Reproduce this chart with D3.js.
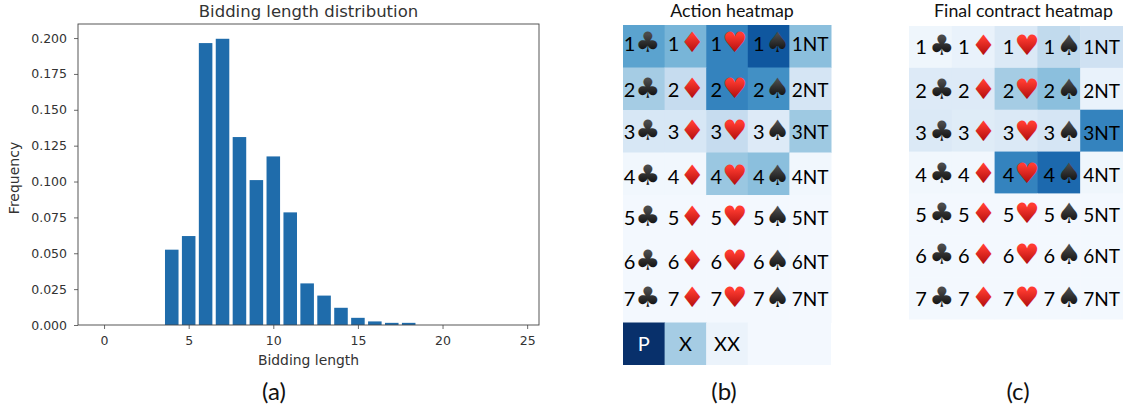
<!DOCTYPE html>
<html>
<head>
<meta charset="utf-8">
<script src="https://cdn.jsdelivr.net/npm/d3@7"></script>
<style>
html, body { margin: 0; padding: 0; background: #fff; }
svg { display: block; }
.mpl text { font-family: "DejaVu Sans", sans-serif; fill: #333; }
.office text { font-family: Lato, "Open Sans", sans-serif; }
</style>
</head>
<body>
<div id="chart-area"></div>
<script>
// BAR CHART DATA
var lengths = [4, 5, 6, 7, 8, 9, 10, 11, 12, 13, 14, 15, 16, 17, 18];
var frequency = [0.0525, 0.062, 0.1965, 0.1995, 0.131, 0.101, 0.1175, 0.0785, 0.029, 0.0205, 0.012, 0.005, 0.0025, 0.0015, 0.0015];
var xTicks = [0, 5, 10, 15, 20, 25];
var yTicks = [0, 0.025, 0.05, 0.075, 0.1, 0.125, 0.15, 0.175, 0.2];

// HEATMAP DATA
var levels = [1, 2, 3, 4, 5, 6, 7];
var suits = ["\u2663", "\u2666", "\u2665", "\u2660", "NT"];
var specials = ["P", "X", "XX", ""];
var actionValues = [
    [0.55, 0.47, 0.68, 0.85, 0.42],
    [0.35, 0.24, 0.68, 0.63, 0.17],
    [0.16, 0.16, 0.24, 0.13, 0.37],
    [0.03, 0.03, 0.38, 0.42, 0.03],
    [0.02, 0.02, 0.02, 0.02, 0.02],
    [0.02, 0.02, 0.02, 0.02, 0.02],
    [0.02, 0.02, 0.02, 0.02, 0.02]
];
var specialValues = [1, 0.35, 0.06, 0.02];
var contractValues = [
    [0.04, 0.07, 0.14, 0.26, 0.2],
    [0.13, 0.13, 0.35, 0.42, 0.07],
    [0.14, 0.12, 0.14, 0.17, 0.68],
    [0.03, 0.03, 0.68, 0.78, 0.04],
    [0.02, 0.02, 0.02, 0.02, 0.02],
    [0.02, 0.02, 0.02, 0.02, 0.02],
    [0.02, 0.02, 0.02, 0.02, 0.02]
];

// CREATE SVG
var svg = d3.select("#chart-area")
    .append("svg")
    .attr("width", 1123)
    .attr("height", 408);

// Suit gradients
var defs = svg.append("defs");
function gradient(id, top, bottom) {
    var grad = defs.append("linearGradient")
        .attr("id", id)
        .attr("x1", 0).attr("y1", 0)
        .attr("x2", 0).attr("y2", 1);
    grad.append("stop").attr("offset", "25%").attr("stop-color", top);
    grad.append("stop").attr("offset", "80%").attr("stop-color", bottom);
}
gradient("red-suit", "#ff3b30", "#b00d0d");
gradient("black-suit", "#4a4a4a", "#0a0a0a");

// (a) BAR CHART
var plot = { left: 78, right: 539, top: 24, bottom: 325 };

var x = d3.scaleLinear().domain([-1.54, 25.7]).range([plot.left, plot.right]);
var y = d3.scaleLinear().domain([0, 0.2098]).range([plot.bottom, plot.top]);

var mpl = svg.append("g").attr("class", "mpl");

mpl.selectAll("rect.bar")
    .data(lengths)
    .enter().append("rect")
    .attr("class", "bar")
    .attr("x", d => x(d - 0.4))
    .attr("width", x(0.8) - x(0))
    .attr("y", (d, i) => y(frequency[i]))
    .attr("height", (d, i) => y(0) - y(frequency[i]))
    .attr("fill", "#1f6cab");

var xAxisCall = d3.axisBottom(x).tickValues(xTicks).tickSize(4).tickPadding(7);
var yAxisCall = d3.axisLeft(y).tickValues(yTicks).tickSize(4).tickPadding(7).tickFormat(d3.format(".3f"));

var xAxisGroup = mpl.append("g")
    .attr("transform", "translate(0," + plot.bottom + ")")
    .call(xAxisCall);
var yAxisGroup = mpl.append("g")
    .attr("transform", "translate(" + plot.left + ",0)")
    .call(yAxisCall);

[xAxisGroup, yAxisGroup].forEach(function (axis) {
    axis.select(".domain").remove();
    axis.selectAll("line").attr("stroke", "#444").attr("stroke-width", 0.8);
    axis.selectAll("text").attr("font-size", 12.5).attr("font-family", "DejaVu Sans").attr("fill", "#333");
});

mpl.append("rect")
    .attr("x", plot.left)
    .attr("y", plot.top)
    .attr("width", plot.right - plot.left)
    .attr("height", plot.bottom - plot.top)
    .attr("fill", "none")
    .attr("stroke", "#444")
    .attr("stroke-width", 0.9);

mpl.append("text")
    .attr("x", (plot.left + plot.right) / 2)
    .attr("y", 17)
    .attr("text-anchor", "middle")
    .attr("font-size", 16.5)
    .text("Bidding length distribution");

mpl.append("text")
    .attr("x", (plot.left + plot.right) / 2)
    .attr("y", 365)
    .attr("text-anchor", "middle")
    .attr("font-size", 13.9)
    .text("Bidding length");

mpl.append("text")
    .attr("transform", "translate(19,178) rotate(-90)")
    .attr("text-anchor", "middle")
    .attr("font-size", 14)
    .text("Frequency");

// HEATMAPS
var color = t => d3.interpolateBlues(t);

function heatmap(opts) {
    var col = d3.scaleBand().domain(d3.range(5)).range([opts.left, opts.right]);
    var rowKeys = levels.concat(opts.specials ? ["special"] : []);
    var row = d3.scaleBand().domain(rowKeys).range([opts.top, opts.bottom]);

    var g = svg.append("g").attr("class", "office");

    var cells = [];
    levels.forEach(function (level, r) {
        suits.forEach(function (suit, c) {
            cells.push({ level: level, suit: suit, c: c, r: r, value: opts.values[r][c] });
        });
    });

    g.selectAll("rect.cell")
        .data(cells)
        .enter().append("rect")
        .attr("class", "cell")
        .attr("x", d => col(d.c))
        .attr("y", d => row(d.level))
        .attr("width", col.bandwidth() + 0.5)
        .attr("height", row.bandwidth() + 0.5)
        .attr("fill", d => color(d.value));

    var baseline = d => row(d.level) + row.bandwidth() / 2 + 7 + opts.rowNudge[d.r];

    // Bid label: level number and suit glyph in one text
    var bids = g.selectAll("text.bid")
        .data(cells.filter(d => d.suit !== "NT"))
        .enter().append("text")
        .attr("class", "bid")
        .attr("x", d => col(d.c) + opts.numOffset[d.c] - 5.8)
        .attr("y", baseline)
        .attr("font-size", 20)
        .attr("fill", "#000");

    bids.append("tspan").text(d => d.level);

    bids.append("tspan")
        .attr("dx", d => opts.suitOffset[d.c] - opts.numOffset[d.c] - 16.6)
        .attr("dy", 1)
        .attr("font-size", 28)
        .style("font-family", "DejaVu Sans")
        .attr("fill", d => (d.suit === "\u2666" || d.suit === "\u2665") ? "url(#red-suit)" : "url(#black-suit)")
        .text(d => d.suit);

    // No trump label
    g.selectAll("text.nt")
        .data(cells.filter(d => d.suit === "NT"))
        .enter().append("text")
        .attr("class", "nt")
        .attr("x", d => col(d.c) + col.bandwidth() / 2)
        .attr("y", baseline)
        .attr("text-anchor", "middle")
        .attr("font-size", 19)
        .attr("fill", "#000")
        .text(d => d.level + d.suit);

    // Pass / double / redouble row
    if (opts.specials) {
        g.selectAll("rect.special")
            .data(opts.specials)
            .enter().append("rect")
            .attr("class", "special")
            .attr("x", (d, i) => col(i))
            .attr("y", row("special"))
            .attr("width", (d, i) => i === 3 ? col.bandwidth() * 2 : col.bandwidth() + 0.5)
            .attr("height", row.bandwidth())
            .attr("fill", (d, i) => color(specialValues[i]));

        g.selectAll("text.special")
            .data(opts.specials)
            .enter().append("text")
            .attr("class", "special")
            .attr("x", (d, i) => col(i) + col.bandwidth() / 2)
            .attr("y", row("special") + row.bandwidth() / 2 + 7)
            .attr("text-anchor", "middle")
            .attr("font-size", 20)
            .attr("fill", (d, i) => i === 0 ? "#fff" : "#000")
            .text(d => d);
    }

    g.append("text")
        .attr("x", opts.titleX)
        .attr("y", 17)
        .attr("text-anchor", "middle")
        .attr("font-size", 17.8)
        .attr("fill", "#111")
        .text(opts.title);
}

heatmap({
    title: "Action heatmap",
    titleX: 732,
    values: actionValues,
    specials: specials,
    left: 623, right: 831, top: 25, bottom: 365,
    numOffset: [6.5, 9, 10, 11],
    suitOffset: [23.1, 26, 27, 28],
    rowNudge: [-2, 1, 1, 3, 2, 3, -2]
});

heatmap({
    title: "Final contract heatmap",
    titleX: 1023.5,
    values: contractValues,
    specials: null,
    left: 909, right: 1123, top: 26, bottom: 319,
    numOffset: [12, 12, 14, 12],
    suitOffset: [31, 30, 31, 30],
    rowNudge: [0, 2, 2, 2, 1, 0, 1]
});

// Panel captions
var captions = svg.append("g").attr("class", "office");
[["(a)", 274], ["(b)", 724], ["(c)", 1018]].forEach(function (c) {
    captions.append("text")
        .attr("x", c[1])
        .attr("y", 400)
        .attr("text-anchor", "middle")
        .attr("font-size", 24)
        .attr("fill", "#111")
        .text(c[0]);
});
</script>
</body>
</html>
